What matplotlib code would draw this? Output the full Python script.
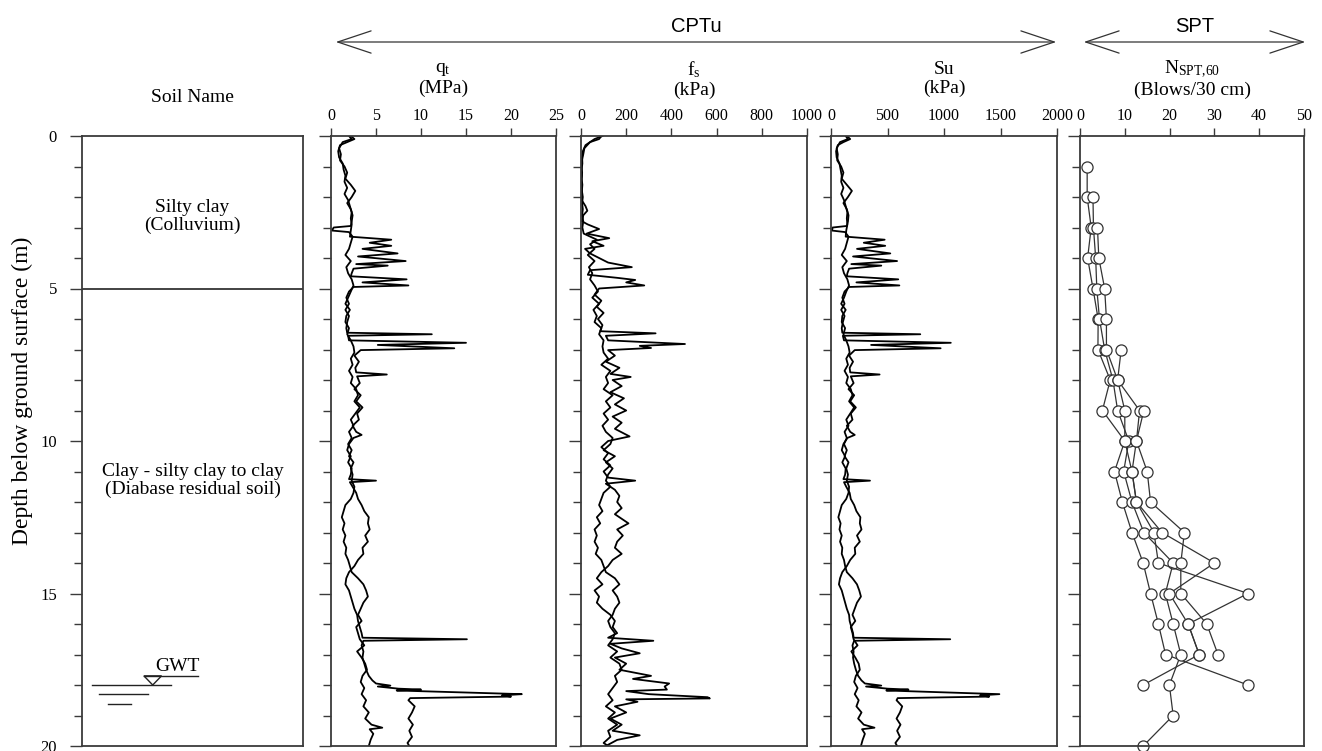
import matplotlib
matplotlib.use("Agg")
import matplotlib.pyplot as plt
from matplotlib.ticker import MultipleLocator
from matplotlib.patches import FancyArrowPatch, Polygon

plt.rcParams['font.family'] = ['Liberation Serif', 'DejaVu Serif']
plt.rcParams['mathtext.fontset'] = 'custom'
plt.rcParams['mathtext.rm'] = 'Liberation Serif'
plt.rcParams['mathtext.it'] = 'Liberation Serif:italic'

# ---------------- data ----------------
# CPTu sounding A
depth_a = [0.0,0.1,0.2,0.3,0.5,0.7,0.9,1.1,1.3,1.5,1.7,1.9,2.1,2.3,2.5,2.7,2.9,3.1,3.3,3.4,3.5,3.6,3.7,3.85,3.95,4.1,4.2,4.25,4.35,4.5,4.6,4.7,4.8,4.9,4.95,5.1,5.3,5.5,5.7,5.9,6.1,6.3,6.45,6.5,6.55,6.7,6.78,6.85,6.96,7.02,7.2,7.4,7.6,7.75,7.82,7.88,8.1,8.3,8.5,8.7,8.9,9.1,9.3,9.5,9.7,9.8,9.9,10.1,10.3,10.5,10.7,10.9,11.1,11.25,11.3,11.35,11.5,11.7,11.9,12.1,12.3,12.5,12.7,12.9,13.1,13.3,13.5,13.7,13.9,14.1,14.3,14.5,14.7,14.9,15.1,15.3,15.5,15.7,15.9,16.1,16.3,16.45,16.5,16.55,16.7,16.9,17.1,17.3,17.5,17.7,17.85,17.95,18.02,18.05,18.12,18.15,18.18,18.3,18.34,18.38,18.43,18.5,18.7,18.9,19.1,19.3,19.5,19.7,19.9,20.0]
qt_a = [2.2,2.6,1.8,1.0,0.8,0.9,1.3,1.4,1.6,1.5,1.8,1.5,1.9,2.1,2.3,2.2,2.3,2.2,2.1,6.7,4.3,6.7,3.5,7.4,3.0,8.3,2.8,6.3,2.5,2.3,2.2,8.4,3.5,8.6,2.5,2.0,1.7,2.0,1.6,2.0,1.8,1.7,1.8,11.2,1.9,2.0,15.0,5.2,13.7,3.3,2.6,3.1,2.7,2.8,6.2,2.9,3.2,2.6,3.3,2.8,3.5,2.9,3.1,2.4,2.8,3.4,2.5,2.0,1.8,2.2,1.9,2.3,2.2,2.0,5.0,2.1,2.4,2.8,3.0,3.4,3.7,4.2,4.1,4.3,3.8,4.1,3.5,3.6,3.0,2.6,2.0,1.7,1.6,2.0,2.2,2.4,2.6,2.9,3.0,3.2,3.4,3.5,15.1,3.6,3.4,3.6,3.5,3.7,3.9,4.2,4.6,5.0,6.6,5.2,7.5,10.0,7.3,21.2,19.0,20.0,8.8,8.6,9.3,9.0,8.6,9.1,8.7,9.0,8.5,8.7]
su_a = [140,170,110,60,45,50,75,85,95,90,110,90,115,130,145,140,145,135,130,475,290,480,230,525,195,585,180,445,160,145,140,595,225,605,160,120,100,120,90,120,105,95,100,790,105,115,1060,355,970,210,160,195,165,170,430,175,200,155,205,170,220,175,190,140,170,210,145,110,95,125,100,130,125,110,345,115,135,165,175,205,225,260,255,270,230,255,210,215,170,140,100,80,70,95,110,125,140,160,165,180,195,200,1055,205,190,200,195,205,220,240,270,300,445,310,500,685,490,1490,1320,1400,590,580,630,610,580,615,585,610,570,585]

# CPTu sounding B
depth_b = [0.0,0.1,0.2,0.4,0.6,0.8,1.0,1.2,1.4,1.6,1.8,2.0,2.2,2.4,2.6,2.8,2.95,3.0,3.1,3.15,3.3,3.5,3.7,3.9,4.1,4.3,4.5,4.7,4.9,5.1,5.3,5.5,5.7,5.9,6.1,6.3,6.5,6.7,6.9,7.1,7.3,7.5,7.7,7.9,8.1,8.3,8.5,8.7,8.9,9.1,9.3,9.5,9.7,9.9,10.1,10.3,10.5,10.7,10.9,11.1,11.3,11.5,11.7,11.9,12.1,12.3,12.5,12.7,12.9,13.1,13.3,13.5,13.7,13.9,14.1,14.3,14.5,14.7,14.9,15.1,15.3,15.5,15.7,15.9,16.1,16.3,16.5,16.7,16.9,17.1,17.3,17.5,17.7,17.9,18.1,18.3,18.5,18.7,18.9,19.1,19.3,19.4,19.45,19.6,19.8,20.0]
qt_b = [2.0,2.3,1.3,0.9,1.1,1.0,1.5,1.8,1.6,2.2,2.7,2.3,1.8,2.2,2.4,2.3,2.2,0.3,0.1,2.0,2.4,2.2,2.0,1.6,2.2,1.7,1.9,2.3,2.5,2.2,1.9,1.6,2.1,1.7,1.6,2.0,1.8,2.2,2.5,2.6,2.2,2.4,2.0,2.4,2.2,2.8,3.0,2.6,3.2,2.7,2.2,2.5,2.0,2.3,1.9,2.3,2.0,2.5,2.2,2.4,2.3,2.6,2.5,2.2,1.6,1.4,1.2,1.5,1.3,1.6,1.4,1.7,1.6,1.9,2.1,2.3,3.0,3.6,3.9,4.1,3.6,3.3,3.0,3.4,2.8,3.0,3.2,3.7,2.9,3.4,3.8,4.0,3.5,3.3,3.7,3.4,3.9,3.6,4.2,3.8,4.5,5.7,4.3,4.7,4.4,4.2]
su_b = [130,150,80,50,60,55,90,110,95,140,185,150,110,140,155,150,140,15,8,125,155,140,125,95,140,100,115,145,160,135,115,90,130,100,95,125,110,135,155,165,135,150,120,150,135,175,190,160,205,170,135,155,120,140,115,140,120,155,135,150,140,160,155,135,95,80,65,85,75,95,80,100,95,115,125,140,190,230,250,265,230,210,190,215,175,190,200,235,180,215,245,255,220,205,235,210,245,225,270,240,290,385,275,300,280,265]

# sleeve friction, soundings A and B
fs_depth_a = [0.0,0.1,0.3,0.5,0.7,0.9,1.1,1.3,1.5,1.7,1.9,2.1,2.3,2.45,2.6,2.8,2.9,3.05,3.2,3.35,3.45,3.6,3.7,3.85,4.0,4.15,4.3,4.4,4.55,4.65,4.72,4.8,4.9,5.0,5.2,5.4,5.6,5.8,6.0,6.2,6.4,6.47,6.55,6.7,6.82,6.88,6.95,7.02,7.2,7.4,7.6,7.8,7.9,8.0,8.2,8.4,8.6,8.8,9.0,9.2,9.4,9.6,9.85,10.0,10.2,10.4,10.6,10.8,11.0,11.2,11.3,11.4,11.6,11.8,12.0,12.2,12.4,12.7,12.9,13.1,13.3,13.5,13.7,13.9,14.1,14.3,14.5,14.7,14.9,15.1,15.3,15.5,15.7,15.9,16.1,16.3,16.45,16.55,16.65,16.8,16.96,17.1,17.3,17.5,17.7,17.8,17.95,18.05,18.15,18.2,18.3,18.4,18.44,18.47,18.55,18.7,18.9,19.1,19.3,19.5,19.65,19.8,20.0]
fs_a = [95,60,20,8,5,6,3,4,2,3,5,3,20,28,10,5,30,80,25,125,50,100,18,40,80,120,225,40,30,160,240,200,280,80,60,90,70,100,75,95,85,330,110,120,460,260,310,120,150,110,170,130,220,140,180,130,190,150,200,140,180,150,215,120,90,120,100,130,100,120,240,110,150,170,160,180,150,210,160,185,160,150,180,140,120,90,70,95,60,80,70,95,130,150,140,160,120,320,130,180,260,150,200,170,310,230,390,370,380,200,300,560,570,200,250,150,200,130,180,140,260,160,110]
fs_depth_b = [0.0,0.1,0.2,0.4,0.6,0.8,1.0,1.2,1.4,1.6,1.8,2.0,2.2,2.4,2.6,2.8,3.0,3.2,3.4,3.55,3.7,3.9,4.1,4.3,4.5,4.7,4.9,5.1,5.3,5.5,5.7,5.9,6.1,6.3,6.5,6.7,6.9,7.1,7.3,7.5,7.7,7.9,8.1,8.3,8.5,8.7,8.9,9.1,9.3,9.5,9.7,9.9,10.1,10.3,10.5,10.7,10.9,11.1,11.3,11.5,11.7,11.9,12.1,12.3,12.5,12.7,12.9,13.1,13.3,13.5,13.7,13.9,14.1,14.3,14.5,14.7,14.9,15.1,15.3,15.5,15.7,15.9,16.1,16.3,16.5,16.7,16.9,17.1,17.3,17.5,17.7,17.9,18.1,18.3,18.5,18.7,18.9,19.1,19.3,19.5,19.7,19.9,20.0]
fs_b = [90,80,40,15,10,4,2,5,3,6,4,8,5,8,5,10,6,12,70,40,60,30,60,35,50,40,60,75,50,80,55,70,60,90,80,100,95,100,120,90,130,110,120,100,140,110,130,100,120,95,110,140,130,100,150,110,140,120,110,130,100,90,80,95,70,85,60,70,60,75,65,90,100,110,150,170,140,160,170,150,140,120,130,150,140,120,160,130,170,180,150,160,140,120,140,110,150,120,160,120,130,100,120]

# SPT boreholes (depth in m, N_SPT,60)
spt_depth_1 = [1,2,3,4,5,6,7,8,9,10,11,12,13,14,15,16,17,18]
spt_n_1 = [1.6,1.6,2.5,1.7,2.9,4.05,4.0,6.75,5.0,10.0,7.7,9.45,11.6,14.1,15.75,17.5,19.1,37.5]
spt_depth_2 = [2,3,4,5,6,7,8,9,10,11,12,13,14,15,16,17,18,19,20]
spt_n_2 = [2.9,3.0,3.5,3.75,4.35,5.5,7.35,8.4,10.9,9.75,11.6,14.25,20.8,19.05,20.8,22.5,19.95,20.8,14.1]
spt_depth_3 = [3,4,5,6,7,8,9,10,11,12,13,14,15,16,17,18]
spt_n_3 = [3.9,4.2,5.5,5.9,5.9,8.4,10.0,10.0,11.6,12.6,16.5,17.5,37.5,24.15,26.6,14.1]
spt_depth_4 = [7,8,9,10,11,12,13,14,15,16,17]
spt_n_4 = [9.2,8.4,13.3,12.6,15.0,15.75,23.3,22.5,22.5,28.3,30.8]
spt_depth_5 = [9,10,11,12,13,14,15,16,17]
spt_n_5 = [14.25,12.6,11.6,12.6,18.3,30.0,19.95,24.15,26.6]

layer_bounds = [0, 5, 20]
layer_names = ["Silty clay\n(Colluvium)", "Clay - silty clay to clay\n(Diabase residual soil)"]
layer_label_depth = [2.65, 11.3]
gwt_depth = 18.0

qt_ticks = [0, 5, 10, 15, 20, 25]
fs_ticks = [0, 200, 400, 600, 800, 1000]
su_ticks = [0, 500, 1000, 1500, 2000]
spt_ticks = [0, 10, 20, 30, 40, 50]

# ---------------- figure ----------------
W, H = 1322, 751
fig = plt.figure(figsize=(W / 100, H / 100), dpi=100)
TOP, BOT = 136, 746


def rect(x0, x1):
    return [x0 / W, 1 - BOT / H, (x1 - x0) / W, (BOT - TOP) / H]


SPINE = '#3a3a3a'


def style(ax, show_ylabels=False):
    ax.set_ylim(20, 0)
    ax.yaxis.set_major_locator(MultipleLocator(5))
    ax.yaxis.set_minor_locator(MultipleLocator(1))
    ax.tick_params(axis='y', which='major', direction='out', length=9, width=1.0,
                   labelsize=12, color=SPINE, pad=9)
    ax.tick_params(axis='y', which='minor', direction='out', length=6, width=1.0, color=SPINE)
    ax.tick_params(axis='y', labelleft=show_ylabels)
    ax.xaxis.tick_top()
    ax.tick_params(axis='x', direction='out', length=6, width=1.0, labelsize=11.5,
                   color=SPINE, pad=3)
    for s in ax.spines.values():
        s.set_linewidth(1.3)
        s.set_color(SPINE)


def fx(px):
    return px / W


def fy(py):
    return 1 - py / H


# soil column
ax0 = fig.add_axes(rect(82, 303))
style(ax0, show_ylabels=True)
ax0.set_xlim(0, 1)
ax0.set_xticks([])
for b in layer_bounds[1:-1]:
    ax0.axhline(b, color='#222', lw=1.2)
for name, d in zip(layer_names, layer_label_depth):
    ax0.text(0.5, d, name, ha='center', va='center', fontsize=14, linespacing=1.05)
# groundwater symbol
ax0.plot([0.28, 0.525], [gwt_depth - 0.3, gwt_depth - 0.3], color='#222', lw=1.0)
ax0.add_patch(Polygon([[0.28, gwt_depth - 0.3], [0.36, gwt_depth - 0.3], [0.32, gwt_depth]],
                      closed=True, fill=False, edgecolor='#222', lw=1.0))
ax0.plot([0.045, 0.403], [gwt_depth, gwt_depth], color='#222', lw=1.0)
ax0.plot([0.077, 0.299], [gwt_depth + 0.3, gwt_depth + 0.3], color='#222', lw=1.0)
ax0.plot([0.118, 0.222], [gwt_depth + 0.62, gwt_depth + 0.62], color='#222', lw=1.0)
ax0.text(0.43, gwt_depth - 0.33, "GWT", ha='center', va='bottom', fontsize=14)
fig.text(fx(22), fy(391), "Depth below ground surface (m)", rotation=90, ha='center',
         va='center', fontsize=17)

LW = 1.3
# qt
ax1 = fig.add_axes(rect(331, 556))
style(ax1)
ax1.plot(qt_a, depth_a, color='black', lw=LW)
ax1.plot(qt_b, depth_b, color='black', lw=LW)
ax1.set_xlim(0, 25)
ax1.set_xticks(qt_ticks)

# fs
ax2 = fig.add_axes(rect(581, 807))
style(ax2)
ax2.plot(fs_a, fs_depth_a, color='black', lw=LW)
ax2.plot(fs_b, fs_depth_b, color='black', lw=LW)
ax2.set_xlim(0, 1000)
ax2.set_xticks(fs_ticks)

# Su
ax3 = fig.add_axes(rect(831, 1057))
style(ax3)
ax3.plot(su_a, depth_a, color='black', lw=LW)
ax3.plot(su_b, depth_b, color='black', lw=LW)
ax3.set_xlim(0, 2000)
ax3.set_xticks(su_ticks)

# SPT
ax4 = fig.add_axes(rect(1080, 1304))
style(ax4)
for dd, nn in [(spt_depth_1, spt_n_1), (spt_depth_2, spt_n_2), (spt_depth_3, spt_n_3),
               (spt_depth_4, spt_n_4), (spt_depth_5, spt_n_5)]:
    ax4.plot(nn, dd, '-o', color='#333', lw=0.9, ms=8, mfc='white', mec='#333', mew=0.9,
             clip_on=False)
ax4.set_xlim(0, 50)
ax4.set_xticks(spt_ticks)

# headers
fig.text(fx(192), fy(97), "Soil Name", ha='center', va='center', fontsize=14)
fig.text(fx(443), fy(79), "q$_{\\rm t}$\n(MPa)", ha='center', va='center', fontsize=14, linespacing=1.1)
fig.text(fx(694), fy(79), "f$_{\\rm s}$\n(kPa)", ha='center', va='center', fontsize=14, linespacing=1.1)
fig.text(fx(944), fy(79), "Su\n(kPa)", ha='center', va='center', fontsize=14, linespacing=1.1)
fig.text(fx(1192), fy(79), "N$_{\\rm SPT{,}60}$\n(Blows/30 cm)", ha='center', va='center', fontsize=14,
         linespacing=1.1)

for x0, x1, label in [(333, 1059, "CPTu"), (1081, 1308, "SPT")]:
    arr = FancyArrowPatch((fx(x0), fy(42)), (fx(x1), fy(42)), transform=fig.transFigure,
                          arrowstyle='<->,head_length=1.2,head_width=0.4', mutation_scale=20,
                          lw=0.9, color='#333')
    fig.add_artist(arr)
    fig.text(fx((x0 + x1) / 2), fy(26), label, ha='center', va='center', fontsize=14.5,
             family='Liberation Sans')

fig.savefig("out.png", dpi=100)
